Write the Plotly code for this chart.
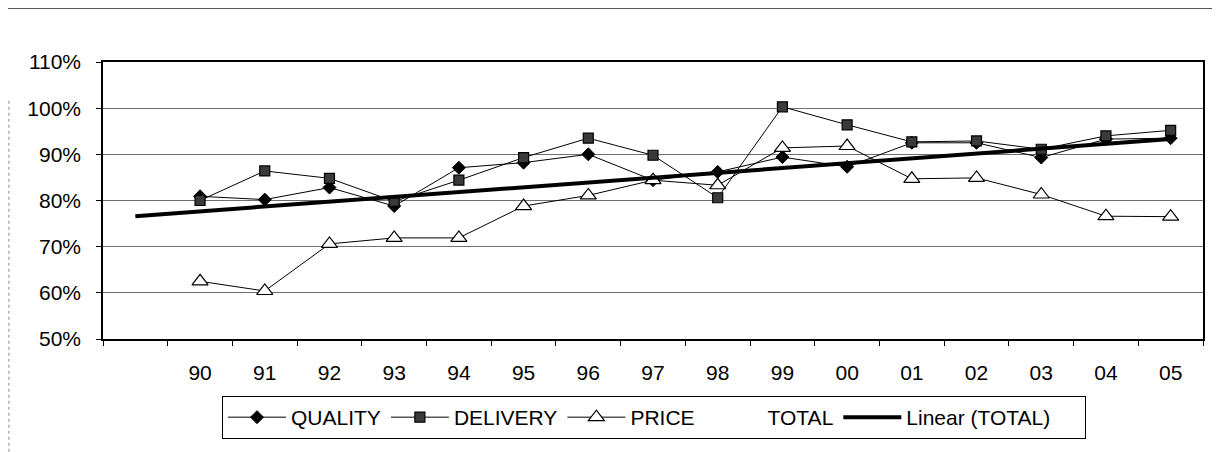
import plotly.graph_objects as go

categories = ["90", "91", "92", "93", "94", "95", "96", "97",
              "98", "99", "00", "01", "02", "03", "04", "05"]
quality = [80.9, 80.2, 82.8, 78.8, 87.1, 88.2, 90.0, 84.4,
           86.2, 89.4, 87.3, 92.5, 92.5, 89.3, 93.3, 93.5]
delivery = [80.0, 86.4, 84.8, 79.8, 84.4, 89.3, 93.5, 89.8,
            80.6, 100.3, 96.4, 92.7, 92.9, 91.1, 94.0, 95.2]
price = [62.5, 60.4, 70.6, 71.9, 71.9, 78.8, 81.1, 84.4,
         83.3, 91.4, 91.8, 84.7, 84.9, 81.3, 76.6, 76.5]
# linear trend of TOTAL, drawn from the blank leading category to the last year
trend_x = [" ", "05"]
trend_y = [76.6, 93.3]
y_ticks = [50, 60, 70, 80, 90, 100, 110]
all_cats = [" "] + categories

FONT = "Liberation Sans, Arial, sans-serif"
FS = 21

fig = go.Figure()
fig.add_trace(go.Scatter(
    x=categories, y=[v / 100 for v in quality], name="QUALITY", mode="lines+markers",
    line=dict(color="black", width=1),
    marker=dict(symbol="diamond", size=10, color="black", line=dict(color="black", width=1))))
fig.add_trace(go.Scatter(
    x=categories, y=[v / 100 for v in delivery], name="DELIVERY", mode="lines+markers",
    line=dict(color="black", width=1),
    marker=dict(symbol="square", size=10, color="#3a3a3a", line=dict(color="black", width=1.2))))
fig.add_trace(go.Scatter(
    x=categories, y=[v / 100 for v in price], name="PRICE", mode="lines+markers",
    line=dict(color="black", width=1),
    marker=dict(symbol="triangle-up", size=14, color="white", line=dict(color="black", width=1.2))))
fig.add_trace(go.Scatter(
    x=[" "], y=[None], name="TOTAL", mode="lines", line=dict(color="rgba(0,0,0,0)", width=0)))
fig.add_trace(go.Scatter(
    x=trend_x, y=[v / 100 for v in trend_y], name="Linear (TOTAL)" + "\u00a0" * 5, mode="lines",
    line=dict(color="black", width=4)))

fig.update_layout(
    width=1220, height=452,
    margin=dict(l=95, r=25, t=54, b=121, autoexpand=False),
    paper_bgcolor="white", plot_bgcolor="white",
    font=dict(family=FONT, size=FS, color="black"),
    showlegend=True,
    legend=dict(
        orientation="h", x=0.1082, xanchor="left", y=-0.2058, yanchor="top",
        bordercolor="black", borderwidth=1, bgcolor="white",
        font=dict(family=FONT, size=FS, color="black"),
        itemwidth=58, traceorder="normal"),
)
fig.update_xaxes(
    type="category", categoryorder="array", categoryarray=all_cats,
    range=[-0.5, len(all_cats) - 0.5],
    tickson="boundaries", ticks="outside", ticklen=5, tickcolor="black",
    showline=True, linecolor="black", linewidth=1.5, mirror=True,
    showgrid=False, ticklabelstandoff=14,
    tickfont=dict(family=FONT, size=FS, color="black"))
fig.update_yaxes(
    range=[0.5, 1.1], tickvals=[v / 100 for v in y_ticks],
    ticktext=[f"{v}%" for v in y_ticks],
    ticks="outside", ticklen=5, tickcolor="black",
    showline=True, linecolor="black", linewidth=1.5, mirror=True,
    showgrid=True, gridcolor="#6e6e6e", gridwidth=1, zeroline=False,
    ticklabelstandoff=11,
    tickfont=dict(family=FONT, size=FS, color="black"))

# faint scan frame around the chart
fig.add_shape(type="line", xref="paper", yref="paper",
              x0=-0.0864, x1=1.03, y0=1.193, y1=1.193,
              line=dict(color="#555555", width=1))
fig.add_shape(type="line", xref="paper", yref="paper",
              x0=-0.0855, x1=-0.0855, y0=0.86, y1=-0.44,
              line=dict(color="#888888", width=1, dash="dot"))

fig.write_html("out.html")
